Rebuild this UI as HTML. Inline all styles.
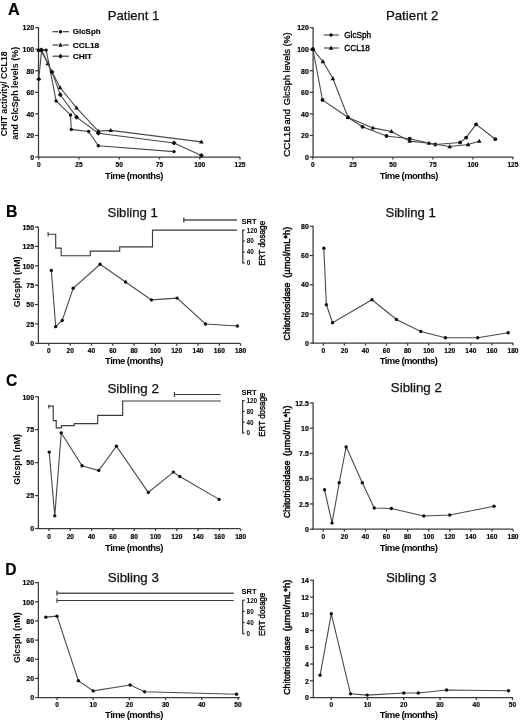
<!DOCTYPE html>
<html><head><meta charset="utf-8"><title>Figure</title>
<style>
html,body{margin:0;padding:0;background:#fff;}
body{width:520px;height:722px;overflow:hidden;}
svg{display:block;font-family:"Liberation Sans", sans-serif;}
</style></head>
<body>
<svg width="520" height="722" viewBox="0 0 520 722">
<defs><filter id="soft" filterUnits="userSpaceOnUse" x="0" y="0" width="520" height="722"><feGaussianBlur stdDeviation="0.45"/></filter></defs>
<rect width="520" height="722" fill="#fff"/>
<g filter="url(#soft)">
<text x="7.9" y="14.7" font-size="17.4" font-weight="bold" textLength="11.7" lengthAdjust="spacingAndGlyphs" fill="#000" stroke="#000" stroke-width="0.2">A</text>
<text x="5.9" y="216.7" font-size="17.4" font-weight="bold" textLength="11.4" lengthAdjust="spacingAndGlyphs" fill="#000" stroke="#000" stroke-width="0.2">B</text>
<text x="5.9" y="385.9" font-size="17.4" font-weight="bold" textLength="11.3" lengthAdjust="spacingAndGlyphs" fill="#000" stroke="#000" stroke-width="0.2">C</text>
<text x="5.3" y="575" font-size="17.4" font-weight="bold" textLength="11.3" lengthAdjust="spacingAndGlyphs" fill="#000" stroke="#000" stroke-width="0.2">D</text>
<line x1="38.5" y1="27.2" x2="38.5" y2="157.5" stroke="#3a3a3a" stroke-width="1.25"/>
<line x1="35.2" y1="157" x2="38.5" y2="157" stroke="#3a3a3a" stroke-width="1.25"/>
<text x="34.2" y="159.75" font-size="7.6" font-weight="bold" text-anchor="end" textLength="3.89" lengthAdjust="spacingAndGlyphs" fill="#000" stroke="#000" stroke-width="0.2">0</text>
<line x1="35.2" y1="135.45" x2="38.5" y2="135.45" stroke="#3a3a3a" stroke-width="1.25"/>
<text x="34.2" y="138.2" font-size="7.6" font-weight="bold" text-anchor="end" textLength="7.78" lengthAdjust="spacingAndGlyphs" fill="#000" stroke="#000" stroke-width="0.2">20</text>
<line x1="35.2" y1="113.9" x2="38.5" y2="113.9" stroke="#3a3a3a" stroke-width="1.25"/>
<text x="34.2" y="116.65" font-size="7.6" font-weight="bold" text-anchor="end" textLength="7.78" lengthAdjust="spacingAndGlyphs" fill="#000" stroke="#000" stroke-width="0.2">40</text>
<line x1="35.2" y1="92.35" x2="38.5" y2="92.35" stroke="#3a3a3a" stroke-width="1.25"/>
<text x="34.2" y="95.1" font-size="7.6" font-weight="bold" text-anchor="end" textLength="7.78" lengthAdjust="spacingAndGlyphs" fill="#000" stroke="#000" stroke-width="0.2">60</text>
<line x1="35.2" y1="70.8" x2="38.5" y2="70.8" stroke="#3a3a3a" stroke-width="1.25"/>
<text x="34.2" y="73.55" font-size="7.6" font-weight="bold" text-anchor="end" textLength="7.78" lengthAdjust="spacingAndGlyphs" fill="#000" stroke="#000" stroke-width="0.2">80</text>
<line x1="35.2" y1="49.25" x2="38.5" y2="49.25" stroke="#3a3a3a" stroke-width="1.25"/>
<text x="34.2" y="52" font-size="7.6" font-weight="bold" text-anchor="end" textLength="11.67" lengthAdjust="spacingAndGlyphs" fill="#000" stroke="#000" stroke-width="0.2">100</text>
<line x1="35.2" y1="27.7" x2="38.5" y2="27.7" stroke="#3a3a3a" stroke-width="1.25"/>
<text x="34.2" y="30.45" font-size="7.6" font-weight="bold" text-anchor="end" textLength="11.67" lengthAdjust="spacingAndGlyphs" fill="#000" stroke="#000" stroke-width="0.2">120</text>
<line x1="38" y1="157" x2="240" y2="157" stroke="#3a3a3a" stroke-width="1.25"/>
<line x1="38.75" y1="157" x2="38.75" y2="159.4" stroke="#3a3a3a" stroke-width="1.25"/>
<text x="38.75" y="167.25" font-size="7.6" font-weight="bold" text-anchor="middle" textLength="3.68" lengthAdjust="spacingAndGlyphs" fill="#000" stroke="#000" stroke-width="0.2">0</text>
<line x1="79" y1="157" x2="79" y2="159.4" stroke="#3a3a3a" stroke-width="1.25"/>
<text x="79" y="167.25" font-size="7.6" font-weight="bold" text-anchor="middle" textLength="7.35" lengthAdjust="spacingAndGlyphs" fill="#000" stroke="#000" stroke-width="0.2">25</text>
<line x1="119.25" y1="157" x2="119.25" y2="159.4" stroke="#3a3a3a" stroke-width="1.25"/>
<text x="119.25" y="167.25" font-size="7.6" font-weight="bold" text-anchor="middle" textLength="7.35" lengthAdjust="spacingAndGlyphs" fill="#000" stroke="#000" stroke-width="0.2">50</text>
<line x1="159.5" y1="157" x2="159.5" y2="159.4" stroke="#3a3a3a" stroke-width="1.25"/>
<text x="159.5" y="167.25" font-size="7.6" font-weight="bold" text-anchor="middle" textLength="7.35" lengthAdjust="spacingAndGlyphs" fill="#000" stroke="#000" stroke-width="0.2">75</text>
<line x1="199.75" y1="157" x2="199.75" y2="159.4" stroke="#3a3a3a" stroke-width="1.25"/>
<text x="199.75" y="167.25" font-size="7.6" font-weight="bold" text-anchor="middle" textLength="11.03" lengthAdjust="spacingAndGlyphs" fill="#000" stroke="#000" stroke-width="0.2">100</text>
<line x1="240" y1="157" x2="240" y2="159.4" stroke="#3a3a3a" stroke-width="1.25"/>
<text x="240" y="167.25" font-size="7.6" font-weight="bold" text-anchor="middle" textLength="11.03" lengthAdjust="spacingAndGlyphs" fill="#000" stroke="#000" stroke-width="0.2">125</text>
<text x="107.8" y="19.8" font-size="13" textLength="51.6" lengthAdjust="spacingAndGlyphs" fill="#111" stroke="#111" stroke-width="0.25">Patient 1</text>
<text x="6.64" y="136.3" font-size="9" font-weight="bold" textLength="84.9" lengthAdjust="spacingAndGlyphs" fill="#000" transform="rotate(-90 6.64 136.3)">CHIT activity/ CCL18</text>
<text x="18.24" y="139.8" font-size="9" font-weight="bold" textLength="92.9" lengthAdjust="spacingAndGlyphs" fill="#000" transform="rotate(-90 18.24 139.8)">and GlcSph levels (%)</text>
<text x="105.1" y="179.2" font-size="9.5" font-weight="bold" textLength="58.2" lengthAdjust="spacing" fill="#000">Time (months)</text>
<path d="M38.75 50.11 L46.16 50.11 L56.14 100.97 L70.47 114.98 L71.27 129.42 L88.66 131.46 L98.32 145.69 L173.99 151.61" stroke="#4a4a4a" stroke-width="1.1" fill="none"/>
<circle cx="38.75" cy="50.11" r="1.7" fill="#111"/>
<circle cx="46.16" cy="50.11" r="1.7" fill="#111"/>
<circle cx="56.14" cy="100.97" r="1.7" fill="#111"/>
<circle cx="70.47" cy="114.98" r="1.7" fill="#111"/>
<circle cx="71.27" cy="129.42" r="1.7" fill="#111"/>
<circle cx="88.66" cy="131.46" r="1.7" fill="#111"/>
<circle cx="98.32" cy="145.69" r="1.7" fill="#111"/>
<circle cx="173.99" cy="151.61" r="1.7" fill="#111"/>
<path d="M38.75 50.11 L40.68 50.11 L47.77 63.58 L60 87.5 L76.59 107.87 L98.32 131.14 L110.72 130.39 L201.36 141.91" stroke="#4a4a4a" stroke-width="1.1" fill="none"/>
<path d="M38.75 47.63 L41.05 51.77 L36.45 51.77 Z" fill="#111"/>
<path d="M40.68 47.63 L42.98 51.77 L38.38 51.77 Z" fill="#111"/>
<path d="M47.77 61.1 L50.07 65.24 L45.47 65.24 Z" fill="#111"/>
<path d="M60 85.02 L62.3 89.16 L57.7 89.16 Z" fill="#111"/>
<path d="M76.59 105.38 L78.89 109.52 L74.29 109.52 Z" fill="#111"/>
<path d="M98.32 128.66 L100.62 132.8 L96.02 132.8 Z" fill="#111"/>
<path d="M110.72 127.9 L113.02 132.04 L108.42 132.04 Z" fill="#111"/>
<path d="M201.36 139.43 L203.66 143.57 L199.06 143.57 Z" fill="#111"/>
<path d="M38.75 79.2 L41.65 50.11 L51.95 71.88 L60.32 94.83 L76.59 117.13 L98.32 133.3 L173.99 142.99 L201.36 155.38" stroke="#4a4a4a" stroke-width="1.1" fill="none"/>
<path d="M38.75 76.7 L41.25 79.2 L38.75 81.7 L36.25 79.2 Z" fill="#111"/>
<path d="M41.65 47.61 L44.15 50.11 L41.65 52.61 L39.15 50.11 Z" fill="#111"/>
<path d="M51.95 69.38 L54.45 71.88 L51.95 74.38 L49.45 71.88 Z" fill="#111"/>
<path d="M60.32 92.33 L62.82 94.83 L60.32 97.33 L57.82 94.83 Z" fill="#111"/>
<path d="M76.59 114.63 L79.09 117.13 L76.59 119.63 L74.09 117.13 Z" fill="#111"/>
<path d="M98.32 130.8 L100.82 133.3 L98.32 135.8 L95.82 133.3 Z" fill="#111"/>
<path d="M173.99 140.49 L176.49 142.99 L173.99 145.49 L171.49 142.99 Z" fill="#111"/>
<path d="M201.36 152.88 L203.86 155.38 L201.36 157.88 L198.86 155.38 Z" fill="#111"/>
<line x1="52.6" y1="31.7" x2="58.2" y2="31.7" stroke="#3a3a3a" stroke-width="1.2"/>
<line x1="62.8" y1="31.7" x2="68.8" y2="31.7" stroke="#3a3a3a" stroke-width="1.2"/>
<circle cx="60.5" cy="31.7" r="1.7" fill="#111"/>
<text x="72.8" y="34.4" font-size="7.8" font-weight="bold" textLength="27.8" lengthAdjust="spacingAndGlyphs" fill="#000" stroke="#000" stroke-width="0.15">GlcSph</text>
<line x1="52.6" y1="45" x2="58.2" y2="45" stroke="#3a3a3a" stroke-width="1.2"/>
<line x1="62.8" y1="45" x2="68.8" y2="45" stroke="#3a3a3a" stroke-width="1.2"/>
<path d="M60.5 42.52 L62.8 46.66 L58.2 46.66 Z" fill="#111"/>
<text x="72.8" y="47.7" font-size="7.8" font-weight="bold" textLength="26.4" lengthAdjust="spacingAndGlyphs" fill="#000" stroke="#000" stroke-width="0.15">CCL18</text>
<line x1="52.6" y1="56.2" x2="58.2" y2="56.2" stroke="#3a3a3a" stroke-width="1.2"/>
<line x1="62.8" y1="56.2" x2="68.8" y2="56.2" stroke="#3a3a3a" stroke-width="1.2"/>
<path d="M60.5 53.7 L63 56.2 L60.5 58.7 L58 56.2 Z" fill="#111"/>
<text x="72.8" y="58.9" font-size="7.8" font-weight="bold" textLength="19.4" lengthAdjust="spacingAndGlyphs" fill="#000" stroke="#000" stroke-width="0.15">CHIT</text>
<line x1="313.1" y1="27.2" x2="313.1" y2="157.5" stroke="#3a3a3a" stroke-width="1.25"/>
<line x1="309.8" y1="157" x2="313.1" y2="157" stroke="#3a3a3a" stroke-width="1.25"/>
<text x="308.8" y="159.75" font-size="7.6" font-weight="bold" text-anchor="end" textLength="3.89" lengthAdjust="spacingAndGlyphs" fill="#000" stroke="#000" stroke-width="0.2">0</text>
<line x1="309.8" y1="135.45" x2="313.1" y2="135.45" stroke="#3a3a3a" stroke-width="1.25"/>
<text x="308.8" y="138.2" font-size="7.6" font-weight="bold" text-anchor="end" textLength="7.78" lengthAdjust="spacingAndGlyphs" fill="#000" stroke="#000" stroke-width="0.2">20</text>
<line x1="309.8" y1="113.9" x2="313.1" y2="113.9" stroke="#3a3a3a" stroke-width="1.25"/>
<text x="308.8" y="116.65" font-size="7.6" font-weight="bold" text-anchor="end" textLength="7.78" lengthAdjust="spacingAndGlyphs" fill="#000" stroke="#000" stroke-width="0.2">40</text>
<line x1="309.8" y1="92.35" x2="313.1" y2="92.35" stroke="#3a3a3a" stroke-width="1.25"/>
<text x="308.8" y="95.1" font-size="7.6" font-weight="bold" text-anchor="end" textLength="7.78" lengthAdjust="spacingAndGlyphs" fill="#000" stroke="#000" stroke-width="0.2">60</text>
<line x1="309.8" y1="70.8" x2="313.1" y2="70.8" stroke="#3a3a3a" stroke-width="1.25"/>
<text x="308.8" y="73.55" font-size="7.6" font-weight="bold" text-anchor="end" textLength="7.78" lengthAdjust="spacingAndGlyphs" fill="#000" stroke="#000" stroke-width="0.2">80</text>
<line x1="309.8" y1="49.25" x2="313.1" y2="49.25" stroke="#3a3a3a" stroke-width="1.25"/>
<text x="308.8" y="52" font-size="7.6" font-weight="bold" text-anchor="end" textLength="11.67" lengthAdjust="spacingAndGlyphs" fill="#000" stroke="#000" stroke-width="0.2">100</text>
<line x1="309.8" y1="27.7" x2="313.1" y2="27.7" stroke="#3a3a3a" stroke-width="1.25"/>
<text x="308.8" y="30.45" font-size="7.6" font-weight="bold" text-anchor="end" textLength="11.67" lengthAdjust="spacingAndGlyphs" fill="#000" stroke="#000" stroke-width="0.2">120</text>
<line x1="312.6" y1="157" x2="513.3" y2="157" stroke="#3a3a3a" stroke-width="1.25"/>
<line x1="312.9" y1="157" x2="312.9" y2="159.4" stroke="#3a3a3a" stroke-width="1.25"/>
<text x="312.9" y="167.45" font-size="7.6" font-weight="bold" text-anchor="middle" textLength="3.68" lengthAdjust="spacingAndGlyphs" fill="#000" stroke="#000" stroke-width="0.2">0</text>
<line x1="352.9" y1="157" x2="352.9" y2="159.4" stroke="#3a3a3a" stroke-width="1.25"/>
<text x="352.9" y="167.45" font-size="7.6" font-weight="bold" text-anchor="middle" textLength="7.35" lengthAdjust="spacingAndGlyphs" fill="#000" stroke="#000" stroke-width="0.2">25</text>
<line x1="392.9" y1="157" x2="392.9" y2="159.4" stroke="#3a3a3a" stroke-width="1.25"/>
<text x="392.9" y="167.45" font-size="7.6" font-weight="bold" text-anchor="middle" textLength="7.35" lengthAdjust="spacingAndGlyphs" fill="#000" stroke="#000" stroke-width="0.2">50</text>
<line x1="432.9" y1="157" x2="432.9" y2="159.4" stroke="#3a3a3a" stroke-width="1.25"/>
<text x="432.9" y="167.45" font-size="7.6" font-weight="bold" text-anchor="middle" textLength="7.35" lengthAdjust="spacingAndGlyphs" fill="#000" stroke="#000" stroke-width="0.2">75</text>
<line x1="472.9" y1="157" x2="472.9" y2="159.4" stroke="#3a3a3a" stroke-width="1.25"/>
<text x="472.9" y="167.45" font-size="7.6" font-weight="bold" text-anchor="middle" textLength="11.03" lengthAdjust="spacingAndGlyphs" fill="#000" stroke="#000" stroke-width="0.2">100</text>
<line x1="512.9" y1="157" x2="512.9" y2="159.4" stroke="#3a3a3a" stroke-width="1.25"/>
<text x="512.9" y="167.45" font-size="7.6" font-weight="bold" text-anchor="middle" textLength="11.03" lengthAdjust="spacingAndGlyphs" fill="#000" stroke="#000" stroke-width="0.2">125</text>
<text x="385.9" y="19.9" font-size="13" textLength="52.4" lengthAdjust="spacingAndGlyphs" fill="#111" stroke="#111" stroke-width="0.25">Patient 2</text>
<text x="289.84" y="156.8" font-size="9.4" textLength="30.8" lengthAdjust="spacingAndGlyphs" fill="#000" stroke="#000" stroke-width="0.3" transform="rotate(-90 289.84 156.8)">CCL18</text>
<text x="289.84" y="124.6" font-size="9.4" textLength="15.5" lengthAdjust="spacingAndGlyphs" fill="#000" stroke="#000" stroke-width="0.3" transform="rotate(-90 289.84 124.6)">and</text>
<text x="289.84" y="105.2" font-size="9.4" textLength="72.9" lengthAdjust="spacingAndGlyphs" fill="#000" stroke="#000" stroke-width="0.3" transform="rotate(-90 289.84 105.2)">GlcSph levels (%)</text>
<text x="379.7" y="178.6" font-size="9.5" font-weight="bold" textLength="58.6" lengthAdjust="spacing" fill="#000">Time (months)</text>
<path d="M312.9 49.25 L322.5 99.89 L348.1 117.46 L362.5 126.83 L386.5 135.99 L409.7 138.68 L435.3 144.5 L460.1 142.45 L466.18 137.6 L476.1 124.35 L495.3 139.22" stroke="#4a4a4a" stroke-width="1.1" fill="none"/>
<circle cx="312.9" cy="49.25" r="1.9" fill="#111"/>
<circle cx="322.5" cy="99.89" r="1.9" fill="#111"/>
<circle cx="348.1" cy="117.46" r="1.9" fill="#111"/>
<circle cx="362.5" cy="126.83" r="1.9" fill="#111"/>
<circle cx="386.5" cy="135.99" r="1.9" fill="#111"/>
<circle cx="409.7" cy="138.68" r="1.9" fill="#111"/>
<circle cx="435.3" cy="144.5" r="1.9" fill="#111"/>
<circle cx="460.1" cy="142.45" r="1.9" fill="#111"/>
<circle cx="466.18" cy="137.6" r="1.9" fill="#111"/>
<circle cx="476.1" cy="124.35" r="1.9" fill="#111"/>
<circle cx="495.3" cy="139.22" r="1.9" fill="#111"/>
<path d="M312.9 49.25 L322.9 61.53 L332.9 78.56 L348.1 117.46 L372.9 127.91 L391.46 131.46 L409.7 141.16 L429.06 143.21 L449.7 146.55 L468.1 144.5 L479.3 141.16" stroke="#4a4a4a" stroke-width="1.1" fill="none"/>
<path d="M312.9 46.77 L315.2 50.91 L310.6 50.91 Z" fill="#111"/>
<path d="M322.9 59.05 L325.2 63.19 L320.6 63.19 Z" fill="#111"/>
<path d="M332.9 76.07 L335.2 80.21 L330.6 80.21 Z" fill="#111"/>
<path d="M348.1 114.97 L350.4 119.11 L345.8 119.11 Z" fill="#111"/>
<path d="M372.9 125.42 L375.2 129.56 L370.6 129.56 Z" fill="#111"/>
<path d="M391.46 128.98 L393.76 133.12 L389.16 133.12 Z" fill="#111"/>
<path d="M409.7 138.68 L412 142.82 L407.4 142.82 Z" fill="#111"/>
<path d="M429.06 140.72 L431.36 144.86 L426.76 144.86 Z" fill="#111"/>
<path d="M449.7 144.06 L452 148.2 L447.4 148.2 Z" fill="#111"/>
<path d="M468.1 142.02 L470.4 146.16 L465.8 146.16 Z" fill="#111"/>
<path d="M479.3 138.68 L481.6 142.82 L477 142.82 Z" fill="#111"/>
<line x1="323.7" y1="35" x2="338.8" y2="35" stroke="#4a4a4a" stroke-width="1.1"/>
<circle cx="331" cy="35" r="1.8" fill="#111"/>
<text x="344.2" y="38" font-size="8.6" textLength="27" lengthAdjust="spacingAndGlyphs" fill="#000" stroke="#000" stroke-width="0.35">GlcSph</text>
<line x1="323.7" y1="48" x2="338.8" y2="48" stroke="#4a4a4a" stroke-width="1.1"/>
<path d="M331 45.52 L333.3 49.66 L328.7 49.66 Z" fill="#111"/>
<text x="344.2" y="51" font-size="8.6" textLength="25.8" lengthAdjust="spacingAndGlyphs" fill="#000" stroke="#000" stroke-width="0.35">CCL18</text>
<line x1="38.4" y1="226.55" x2="38.4" y2="343.8" stroke="#3a3a3a" stroke-width="1.25"/>
<line x1="35.1" y1="343.3" x2="38.4" y2="343.3" stroke="#3a3a3a" stroke-width="1.25"/>
<text x="34.1" y="346.05" font-size="7.6" font-weight="bold" text-anchor="end" textLength="3.89" lengthAdjust="spacingAndGlyphs" fill="#000" stroke="#000" stroke-width="0.2">0</text>
<line x1="35.1" y1="323.93" x2="38.4" y2="323.93" stroke="#3a3a3a" stroke-width="1.25"/>
<text x="34.1" y="326.68" font-size="7.6" font-weight="bold" text-anchor="end" textLength="7.78" lengthAdjust="spacingAndGlyphs" fill="#000" stroke="#000" stroke-width="0.2">25</text>
<line x1="35.1" y1="304.55" x2="38.4" y2="304.55" stroke="#3a3a3a" stroke-width="1.25"/>
<text x="34.1" y="307.3" font-size="7.6" font-weight="bold" text-anchor="end" textLength="7.78" lengthAdjust="spacingAndGlyphs" fill="#000" stroke="#000" stroke-width="0.2">50</text>
<line x1="35.1" y1="285.18" x2="38.4" y2="285.18" stroke="#3a3a3a" stroke-width="1.25"/>
<text x="34.1" y="287.93" font-size="7.6" font-weight="bold" text-anchor="end" textLength="7.78" lengthAdjust="spacingAndGlyphs" fill="#000" stroke="#000" stroke-width="0.2">75</text>
<line x1="35.1" y1="265.8" x2="38.4" y2="265.8" stroke="#3a3a3a" stroke-width="1.25"/>
<text x="34.1" y="268.55" font-size="7.6" font-weight="bold" text-anchor="end" textLength="11.67" lengthAdjust="spacingAndGlyphs" fill="#000" stroke="#000" stroke-width="0.2">100</text>
<line x1="35.1" y1="246.43" x2="38.4" y2="246.43" stroke="#3a3a3a" stroke-width="1.25"/>
<text x="34.1" y="249.18" font-size="7.6" font-weight="bold" text-anchor="end" textLength="11.67" lengthAdjust="spacingAndGlyphs" fill="#000" stroke="#000" stroke-width="0.2">125</text>
<line x1="35.1" y1="227.05" x2="38.4" y2="227.05" stroke="#3a3a3a" stroke-width="1.25"/>
<text x="34.1" y="229.8" font-size="7.6" font-weight="bold" text-anchor="end" textLength="11.67" lengthAdjust="spacingAndGlyphs" fill="#000" stroke="#000" stroke-width="0.2">150</text>
<line x1="37.9" y1="343.3" x2="240" y2="343.3" stroke="#3a3a3a" stroke-width="1.25"/>
<line x1="48.9" y1="343.3" x2="48.9" y2="345.7" stroke="#3a3a3a" stroke-width="1.25"/>
<text x="48.9" y="352.65" font-size="7.6" font-weight="bold" text-anchor="middle" textLength="3.68" lengthAdjust="spacingAndGlyphs" fill="#000" stroke="#000" stroke-width="0.2">0</text>
<line x1="70.2" y1="343.3" x2="70.2" y2="345.7" stroke="#3a3a3a" stroke-width="1.25"/>
<text x="70.2" y="352.65" font-size="7.6" font-weight="bold" text-anchor="middle" textLength="7.35" lengthAdjust="spacingAndGlyphs" fill="#000" stroke="#000" stroke-width="0.2">20</text>
<line x1="91.5" y1="343.3" x2="91.5" y2="345.7" stroke="#3a3a3a" stroke-width="1.25"/>
<text x="91.5" y="352.65" font-size="7.6" font-weight="bold" text-anchor="middle" textLength="7.35" lengthAdjust="spacingAndGlyphs" fill="#000" stroke="#000" stroke-width="0.2">40</text>
<line x1="112.8" y1="343.3" x2="112.8" y2="345.7" stroke="#3a3a3a" stroke-width="1.25"/>
<text x="112.8" y="352.65" font-size="7.6" font-weight="bold" text-anchor="middle" textLength="7.35" lengthAdjust="spacingAndGlyphs" fill="#000" stroke="#000" stroke-width="0.2">60</text>
<line x1="134.1" y1="343.3" x2="134.1" y2="345.7" stroke="#3a3a3a" stroke-width="1.25"/>
<text x="134.1" y="352.65" font-size="7.6" font-weight="bold" text-anchor="middle" textLength="7.35" lengthAdjust="spacingAndGlyphs" fill="#000" stroke="#000" stroke-width="0.2">80</text>
<line x1="155.4" y1="343.3" x2="155.4" y2="345.7" stroke="#3a3a3a" stroke-width="1.25"/>
<text x="155.4" y="352.65" font-size="7.6" font-weight="bold" text-anchor="middle" textLength="11.03" lengthAdjust="spacingAndGlyphs" fill="#000" stroke="#000" stroke-width="0.2">100</text>
<line x1="176.7" y1="343.3" x2="176.7" y2="345.7" stroke="#3a3a3a" stroke-width="1.25"/>
<text x="176.7" y="352.65" font-size="7.6" font-weight="bold" text-anchor="middle" textLength="11.03" lengthAdjust="spacingAndGlyphs" fill="#000" stroke="#000" stroke-width="0.2">120</text>
<line x1="198" y1="343.3" x2="198" y2="345.7" stroke="#3a3a3a" stroke-width="1.25"/>
<text x="198" y="352.65" font-size="7.6" font-weight="bold" text-anchor="middle" textLength="11.03" lengthAdjust="spacingAndGlyphs" fill="#000" stroke="#000" stroke-width="0.2">140</text>
<line x1="219.3" y1="343.3" x2="219.3" y2="345.7" stroke="#3a3a3a" stroke-width="1.25"/>
<text x="219.3" y="352.65" font-size="7.6" font-weight="bold" text-anchor="middle" textLength="11.03" lengthAdjust="spacingAndGlyphs" fill="#000" stroke="#000" stroke-width="0.2">160</text>
<line x1="240.6" y1="343.3" x2="240.6" y2="345.7" stroke="#3a3a3a" stroke-width="1.25"/>
<text x="240.6" y="352.65" font-size="7.6" font-weight="bold" text-anchor="middle" textLength="11.03" lengthAdjust="spacingAndGlyphs" fill="#000" stroke="#000" stroke-width="0.2">180</text>
<text x="107.4" y="216.9" font-size="13" textLength="50.5" lengthAdjust="spacingAndGlyphs" fill="#111" stroke="#111" stroke-width="0.25">Sibling 1</text>
<text x="20.34" y="307.2" font-size="9" font-weight="bold" textLength="50.6" lengthAdjust="spacingAndGlyphs" fill="#000" transform="rotate(-90 20.34 307.2)">Glcsph (nM)</text>
<text x="105.1" y="364.2" font-size="9.5" font-weight="bold" textLength="58.4" lengthAdjust="spacing" fill="#000">Time (months)</text>
<path d="M51.35 270.45 L55.66 326.64 L62.21 320.44 L73.18 288.28 L100.13 264.25 L125.58 282.07 L151.35 299.9 L177.13 298.12 L205.45 323.93 L237.41 325.94" stroke="#4a4a4a" stroke-width="1.1" fill="none"/>
<circle cx="51.35" cy="270.45" r="1.7" fill="#111"/>
<circle cx="55.66" cy="326.64" r="1.7" fill="#111"/>
<circle cx="62.21" cy="320.44" r="1.7" fill="#111"/>
<circle cx="73.18" cy="288.28" r="1.7" fill="#111"/>
<circle cx="100.13" cy="264.25" r="1.7" fill="#111"/>
<circle cx="125.58" cy="282.07" r="1.7" fill="#111"/>
<circle cx="151.35" cy="299.9" r="1.7" fill="#111"/>
<circle cx="177.13" cy="298.12" r="1.7" fill="#111"/>
<circle cx="205.45" cy="323.93" r="1.7" fill="#111"/>
<circle cx="237.41" cy="325.94" r="1.7" fill="#111"/>
<path d="M48.1 231.9 V236.4 M48.1 234.2 H55.7 V248.1 H61.2 V255.7 H90.3 V251.1 H119.7 V246.9 H152.5 V230.1 H237.1" stroke="#3a3a3a" stroke-width="1.15" fill="none"/>
<path d="M183.8 217.6 V222.4 M183.8 220.0 H237.1" stroke="#555" stroke-width="1.5" fill="none"/>
<line x1="242.8" y1="230.1" x2="242.8" y2="263" stroke="#3a3a3a" stroke-width="1.25"/>
<line x1="242.3" y1="230.1" x2="244.8" y2="230.1" stroke="#3a3a3a" stroke-width="1.25"/>
<text x="246.7" y="232.5" font-size="6.7" font-weight="bold" text-anchor="start" textLength="10.62" lengthAdjust="spacingAndGlyphs" fill="#000">120</text>
<line x1="242.3" y1="241.07" x2="244.8" y2="241.07" stroke="#3a3a3a" stroke-width="1.25"/>
<text x="246.7" y="243.47" font-size="6.7" font-weight="bold" text-anchor="start" textLength="7.08" lengthAdjust="spacingAndGlyphs" fill="#000">80</text>
<line x1="242.3" y1="252.03" x2="244.8" y2="252.03" stroke="#3a3a3a" stroke-width="1.25"/>
<text x="246.7" y="254.43" font-size="6.7" font-weight="bold" text-anchor="start" textLength="7.08" lengthAdjust="spacingAndGlyphs" fill="#000">40</text>
<line x1="242.3" y1="263" x2="244.8" y2="263" stroke="#3a3a3a" stroke-width="1.25"/>
<text x="246.7" y="265.4" font-size="6.7" font-weight="bold" text-anchor="start" textLength="3.54" lengthAdjust="spacingAndGlyphs" fill="#000">0</text>
<text x="241.5" y="223.75" font-size="7.8" font-weight="bold" textLength="15.3" lengthAdjust="spacingAndGlyphs" fill="#000">SRT</text>
<text x="264.98" y="265.8" font-size="8.4" textLength="45" lengthAdjust="spacingAndGlyphs" fill="#000" stroke="#000" stroke-width="0.35" transform="rotate(-90 264.98 265.8)">ERT dosage</text>
<line x1="313.1" y1="225.8" x2="313.1" y2="343.6" stroke="#3a3a3a" stroke-width="1.25"/>
<line x1="309.8" y1="343.1" x2="313.1" y2="343.1" stroke="#3a3a3a" stroke-width="1.25"/>
<text x="308.8" y="345.85" font-size="7.6" font-weight="bold" text-anchor="end" textLength="3.89" lengthAdjust="spacingAndGlyphs" fill="#000" stroke="#000" stroke-width="0.2">0</text>
<line x1="309.8" y1="313.9" x2="313.1" y2="313.9" stroke="#3a3a3a" stroke-width="1.25"/>
<text x="308.8" y="316.65" font-size="7.6" font-weight="bold" text-anchor="end" textLength="7.78" lengthAdjust="spacingAndGlyphs" fill="#000" stroke="#000" stroke-width="0.2">20</text>
<line x1="309.8" y1="284.7" x2="313.1" y2="284.7" stroke="#3a3a3a" stroke-width="1.25"/>
<text x="308.8" y="287.45" font-size="7.6" font-weight="bold" text-anchor="end" textLength="7.78" lengthAdjust="spacingAndGlyphs" fill="#000" stroke="#000" stroke-width="0.2">40</text>
<line x1="309.8" y1="255.5" x2="313.1" y2="255.5" stroke="#3a3a3a" stroke-width="1.25"/>
<text x="308.8" y="258.25" font-size="7.6" font-weight="bold" text-anchor="end" textLength="7.78" lengthAdjust="spacingAndGlyphs" fill="#000" stroke="#000" stroke-width="0.2">60</text>
<line x1="309.8" y1="226.3" x2="313.1" y2="226.3" stroke="#3a3a3a" stroke-width="1.25"/>
<text x="308.8" y="229.05" font-size="7.6" font-weight="bold" text-anchor="end" textLength="7.78" lengthAdjust="spacingAndGlyphs" fill="#000" stroke="#000" stroke-width="0.2">80</text>
<line x1="312.6" y1="343.1" x2="513" y2="343.1" stroke="#3a3a3a" stroke-width="1.25"/>
<line x1="323.3" y1="343.1" x2="323.3" y2="345.5" stroke="#3a3a3a" stroke-width="1.25"/>
<text x="323.3" y="352.55" font-size="7.6" font-weight="bold" text-anchor="middle" textLength="3.68" lengthAdjust="spacingAndGlyphs" fill="#000" stroke="#000" stroke-width="0.2">0</text>
<line x1="344.38" y1="343.1" x2="344.38" y2="345.5" stroke="#3a3a3a" stroke-width="1.25"/>
<text x="344.38" y="352.55" font-size="7.6" font-weight="bold" text-anchor="middle" textLength="7.35" lengthAdjust="spacingAndGlyphs" fill="#000" stroke="#000" stroke-width="0.2">20</text>
<line x1="365.46" y1="343.1" x2="365.46" y2="345.5" stroke="#3a3a3a" stroke-width="1.25"/>
<text x="365.46" y="352.55" font-size="7.6" font-weight="bold" text-anchor="middle" textLength="7.35" lengthAdjust="spacingAndGlyphs" fill="#000" stroke="#000" stroke-width="0.2">40</text>
<line x1="386.54" y1="343.1" x2="386.54" y2="345.5" stroke="#3a3a3a" stroke-width="1.25"/>
<text x="386.54" y="352.55" font-size="7.6" font-weight="bold" text-anchor="middle" textLength="7.35" lengthAdjust="spacingAndGlyphs" fill="#000" stroke="#000" stroke-width="0.2">60</text>
<line x1="407.62" y1="343.1" x2="407.62" y2="345.5" stroke="#3a3a3a" stroke-width="1.25"/>
<text x="407.62" y="352.55" font-size="7.6" font-weight="bold" text-anchor="middle" textLength="7.35" lengthAdjust="spacingAndGlyphs" fill="#000" stroke="#000" stroke-width="0.2">80</text>
<line x1="428.7" y1="343.1" x2="428.7" y2="345.5" stroke="#3a3a3a" stroke-width="1.25"/>
<text x="428.7" y="352.55" font-size="7.6" font-weight="bold" text-anchor="middle" textLength="11.03" lengthAdjust="spacingAndGlyphs" fill="#000" stroke="#000" stroke-width="0.2">100</text>
<line x1="449.78" y1="343.1" x2="449.78" y2="345.5" stroke="#3a3a3a" stroke-width="1.25"/>
<text x="449.78" y="352.55" font-size="7.6" font-weight="bold" text-anchor="middle" textLength="11.03" lengthAdjust="spacingAndGlyphs" fill="#000" stroke="#000" stroke-width="0.2">120</text>
<line x1="470.86" y1="343.1" x2="470.86" y2="345.5" stroke="#3a3a3a" stroke-width="1.25"/>
<text x="470.86" y="352.55" font-size="7.6" font-weight="bold" text-anchor="middle" textLength="11.03" lengthAdjust="spacingAndGlyphs" fill="#000" stroke="#000" stroke-width="0.2">140</text>
<line x1="491.94" y1="343.1" x2="491.94" y2="345.5" stroke="#3a3a3a" stroke-width="1.25"/>
<text x="491.94" y="352.55" font-size="7.6" font-weight="bold" text-anchor="middle" textLength="11.03" lengthAdjust="spacingAndGlyphs" fill="#000" stroke="#000" stroke-width="0.2">160</text>
<line x1="513.02" y1="343.1" x2="513.02" y2="345.5" stroke="#3a3a3a" stroke-width="1.25"/>
<text x="513.02" y="352.55" font-size="7.6" font-weight="bold" text-anchor="middle" textLength="11.03" lengthAdjust="spacingAndGlyphs" fill="#000" stroke="#000" stroke-width="0.2">180</text>
<text x="385.4" y="216.5" font-size="13" textLength="50.5" lengthAdjust="spacingAndGlyphs" fill="#111" stroke="#111" stroke-width="0.25">Sibling 1</text>
<text x="289.64" y="340.4" font-size="9" textLength="57.76" lengthAdjust="spacingAndGlyphs" fill="#000" stroke="#000" stroke-width="0.45" transform="rotate(-90 289.64 340.4)">Chitotriosidase</text>
<text x="289.64" y="277.75" font-size="9" textLength="51.05" lengthAdjust="spacingAndGlyphs" fill="#000" stroke="#000" stroke-width="0.45" transform="rotate(-90 289.64 277.75)">(µmol/mL*h)</text>
<text x="379.7" y="364.2" font-size="9.5" font-weight="bold" textLength="58.3" lengthAdjust="spacing" fill="#000">Time (months)</text>
<path d="M323.83 248.2 L326.36 304.7 L332.58 322.66 L371.99 299.74 L396.45 319.45 L420.8 331.42 L445.35 337.7 L477.71 337.7 L508.17 332.81" stroke="#4a4a4a" stroke-width="1.1" fill="none"/>
<circle cx="323.83" cy="248.2" r="1.7" fill="#111"/>
<circle cx="326.36" cy="304.7" r="1.7" fill="#111"/>
<circle cx="332.58" cy="322.66" r="1.7" fill="#111"/>
<circle cx="371.99" cy="299.74" r="1.7" fill="#111"/>
<circle cx="396.45" cy="319.45" r="1.7" fill="#111"/>
<circle cx="420.8" cy="331.42" r="1.7" fill="#111"/>
<circle cx="445.35" cy="337.7" r="1.7" fill="#111"/>
<circle cx="477.71" cy="337.7" r="1.7" fill="#111"/>
<circle cx="508.17" cy="332.81" r="1.7" fill="#111"/>
<line x1="38.4" y1="396.25" x2="38.4" y2="529" stroke="#3a3a3a" stroke-width="1.25"/>
<line x1="35.1" y1="528.5" x2="38.4" y2="528.5" stroke="#3a3a3a" stroke-width="1.25"/>
<text x="34.1" y="531.25" font-size="7.6" font-weight="bold" text-anchor="end" textLength="3.89" lengthAdjust="spacingAndGlyphs" fill="#000" stroke="#000" stroke-width="0.2">0</text>
<line x1="35.1" y1="495.56" x2="38.4" y2="495.56" stroke="#3a3a3a" stroke-width="1.25"/>
<text x="34.1" y="498.31" font-size="7.6" font-weight="bold" text-anchor="end" textLength="7.78" lengthAdjust="spacingAndGlyphs" fill="#000" stroke="#000" stroke-width="0.2">25</text>
<line x1="35.1" y1="462.62" x2="38.4" y2="462.62" stroke="#3a3a3a" stroke-width="1.25"/>
<text x="34.1" y="465.38" font-size="7.6" font-weight="bold" text-anchor="end" textLength="7.78" lengthAdjust="spacingAndGlyphs" fill="#000" stroke="#000" stroke-width="0.2">50</text>
<line x1="35.1" y1="429.69" x2="38.4" y2="429.69" stroke="#3a3a3a" stroke-width="1.25"/>
<text x="34.1" y="432.44" font-size="7.6" font-weight="bold" text-anchor="end" textLength="7.78" lengthAdjust="spacingAndGlyphs" fill="#000" stroke="#000" stroke-width="0.2">75</text>
<line x1="35.1" y1="396.75" x2="38.4" y2="396.75" stroke="#3a3a3a" stroke-width="1.25"/>
<text x="34.1" y="399.5" font-size="7.6" font-weight="bold" text-anchor="end" textLength="11.67" lengthAdjust="spacingAndGlyphs" fill="#000" stroke="#000" stroke-width="0.2">100</text>
<line x1="37.9" y1="528.5" x2="240" y2="528.5" stroke="#3a3a3a" stroke-width="1.25"/>
<line x1="49" y1="528.5" x2="49" y2="530.9" stroke="#3a3a3a" stroke-width="1.25"/>
<text x="49" y="539.05" font-size="7.6" font-weight="bold" text-anchor="middle" textLength="3.68" lengthAdjust="spacingAndGlyphs" fill="#000" stroke="#000" stroke-width="0.2">0</text>
<line x1="70.3" y1="528.5" x2="70.3" y2="530.9" stroke="#3a3a3a" stroke-width="1.25"/>
<text x="70.3" y="539.05" font-size="7.6" font-weight="bold" text-anchor="middle" textLength="7.35" lengthAdjust="spacingAndGlyphs" fill="#000" stroke="#000" stroke-width="0.2">20</text>
<line x1="91.6" y1="528.5" x2="91.6" y2="530.9" stroke="#3a3a3a" stroke-width="1.25"/>
<text x="91.6" y="539.05" font-size="7.6" font-weight="bold" text-anchor="middle" textLength="7.35" lengthAdjust="spacingAndGlyphs" fill="#000" stroke="#000" stroke-width="0.2">40</text>
<line x1="112.9" y1="528.5" x2="112.9" y2="530.9" stroke="#3a3a3a" stroke-width="1.25"/>
<text x="112.9" y="539.05" font-size="7.6" font-weight="bold" text-anchor="middle" textLength="7.35" lengthAdjust="spacingAndGlyphs" fill="#000" stroke="#000" stroke-width="0.2">60</text>
<line x1="134.2" y1="528.5" x2="134.2" y2="530.9" stroke="#3a3a3a" stroke-width="1.25"/>
<text x="134.2" y="539.05" font-size="7.6" font-weight="bold" text-anchor="middle" textLength="7.35" lengthAdjust="spacingAndGlyphs" fill="#000" stroke="#000" stroke-width="0.2">80</text>
<line x1="155.5" y1="528.5" x2="155.5" y2="530.9" stroke="#3a3a3a" stroke-width="1.25"/>
<text x="155.5" y="539.05" font-size="7.6" font-weight="bold" text-anchor="middle" textLength="11.03" lengthAdjust="spacingAndGlyphs" fill="#000" stroke="#000" stroke-width="0.2">100</text>
<line x1="176.8" y1="528.5" x2="176.8" y2="530.9" stroke="#3a3a3a" stroke-width="1.25"/>
<text x="176.8" y="539.05" font-size="7.6" font-weight="bold" text-anchor="middle" textLength="11.03" lengthAdjust="spacingAndGlyphs" fill="#000" stroke="#000" stroke-width="0.2">120</text>
<line x1="198.1" y1="528.5" x2="198.1" y2="530.9" stroke="#3a3a3a" stroke-width="1.25"/>
<text x="198.1" y="539.05" font-size="7.6" font-weight="bold" text-anchor="middle" textLength="11.03" lengthAdjust="spacingAndGlyphs" fill="#000" stroke="#000" stroke-width="0.2">140</text>
<line x1="219.4" y1="528.5" x2="219.4" y2="530.9" stroke="#3a3a3a" stroke-width="1.25"/>
<text x="219.4" y="539.05" font-size="7.6" font-weight="bold" text-anchor="middle" textLength="11.03" lengthAdjust="spacingAndGlyphs" fill="#000" stroke="#000" stroke-width="0.2">160</text>
<line x1="240.7" y1="528.5" x2="240.7" y2="530.9" stroke="#3a3a3a" stroke-width="1.25"/>
<text x="240.7" y="539.05" font-size="7.6" font-weight="bold" text-anchor="middle" textLength="11.03" lengthAdjust="spacingAndGlyphs" fill="#000" stroke="#000" stroke-width="0.2">180</text>
<text x="107.4" y="392.5" font-size="13" textLength="51.5" lengthAdjust="spacingAndGlyphs" fill="#111" stroke="#111" stroke-width="0.25">Sibling 2</text>
<text x="19.94" y="484.7" font-size="9" font-weight="bold" textLength="50.7" lengthAdjust="spacingAndGlyphs" fill="#000" transform="rotate(-90 19.94 484.7)">Glcsph (nM)</text>
<text x="105.1" y="550.6" font-size="9.5" font-weight="bold" textLength="58.2" lengthAdjust="spacing" fill="#000">Time (months)</text>
<path d="M49.21 452.09 L54.75 515.85 L61.25 432.85 L82.02 465.79 L98.74 470.53 L116.41 446.16 L148.26 492.4 L173.39 472.11 L179.78 476.46 L219.19 499.38" stroke="#4a4a4a" stroke-width="1.1" fill="none"/>
<circle cx="49.21" cy="452.09" r="1.7" fill="#111"/>
<circle cx="54.75" cy="515.85" r="1.7" fill="#111"/>
<circle cx="61.25" cy="432.85" r="1.7" fill="#111"/>
<circle cx="82.02" cy="465.79" r="1.7" fill="#111"/>
<circle cx="98.74" cy="470.53" r="1.7" fill="#111"/>
<circle cx="116.41" cy="446.16" r="1.7" fill="#111"/>
<circle cx="148.26" cy="492.4" r="1.7" fill="#111"/>
<circle cx="173.39" cy="472.11" r="1.7" fill="#111"/>
<circle cx="179.78" cy="476.46" r="1.7" fill="#111"/>
<circle cx="219.19" cy="499.38" r="1.7" fill="#111"/>
<path d="M48.8 404.7 V408.4 M48.8 406.1 H53.2 V420.6 H56.2 V427.8 H61.5 V425.6 H74.2 V423.6 H97.7 V415.3 H122.7 V401.0 H220.7" stroke="#3a3a3a" stroke-width="1.15" fill="none"/>
<path d="M174.4 391.9 V397.1 M174.4 394.5 H220.7" stroke="#3a3a3a" stroke-width="1.1" fill="none"/>
<line x1="242.6" y1="400.6" x2="242.6" y2="433" stroke="#3a3a3a" stroke-width="1.25"/>
<line x1="242.1" y1="400.6" x2="244.6" y2="400.6" stroke="#3a3a3a" stroke-width="1.25"/>
<text x="246.5" y="403" font-size="6.7" font-weight="bold" text-anchor="start" textLength="10.62" lengthAdjust="spacingAndGlyphs" fill="#000">120</text>
<line x1="242.1" y1="411.4" x2="244.6" y2="411.4" stroke="#3a3a3a" stroke-width="1.25"/>
<text x="246.5" y="413.8" font-size="6.7" font-weight="bold" text-anchor="start" textLength="7.08" lengthAdjust="spacingAndGlyphs" fill="#000">80</text>
<line x1="242.1" y1="422.2" x2="244.6" y2="422.2" stroke="#3a3a3a" stroke-width="1.25"/>
<text x="246.5" y="424.6" font-size="6.7" font-weight="bold" text-anchor="start" textLength="7.08" lengthAdjust="spacingAndGlyphs" fill="#000">40</text>
<line x1="242.1" y1="433" x2="244.6" y2="433" stroke="#3a3a3a" stroke-width="1.25"/>
<text x="246.5" y="435.4" font-size="6.7" font-weight="bold" text-anchor="start" textLength="3.54" lengthAdjust="spacingAndGlyphs" fill="#000">0</text>
<text x="241.5" y="395.45" font-size="7.8" font-weight="bold" textLength="15.3" lengthAdjust="spacingAndGlyphs" fill="#000">SRT</text>
<text x="264.98" y="436.7" font-size="8.4" textLength="44" lengthAdjust="spacingAndGlyphs" fill="#000" stroke="#000" stroke-width="0.35" transform="rotate(-90 264.98 436.7)">ERT dosage</text>
<line x1="313.1" y1="402.45" x2="313.1" y2="529.7" stroke="#3a3a3a" stroke-width="1.25"/>
<line x1="309.8" y1="529.2" x2="313.1" y2="529.2" stroke="#3a3a3a" stroke-width="1.25"/>
<text x="308.8" y="531.95" font-size="7.6" font-weight="bold" text-anchor="end" textLength="3.89" lengthAdjust="spacingAndGlyphs" fill="#000" stroke="#000" stroke-width="0.2">0</text>
<line x1="309.8" y1="503.95" x2="313.1" y2="503.95" stroke="#3a3a3a" stroke-width="1.25"/>
<text x="308.8" y="506.7" font-size="7.6" font-weight="bold" text-anchor="end" textLength="9.72" lengthAdjust="spacingAndGlyphs" fill="#000" stroke="#000" stroke-width="0.2">2.5</text>
<line x1="309.8" y1="478.7" x2="313.1" y2="478.7" stroke="#3a3a3a" stroke-width="1.25"/>
<text x="308.8" y="481.45" font-size="7.6" font-weight="bold" text-anchor="end" textLength="9.72" lengthAdjust="spacingAndGlyphs" fill="#000" stroke="#000" stroke-width="0.2">5.0</text>
<line x1="309.8" y1="453.45" x2="313.1" y2="453.45" stroke="#3a3a3a" stroke-width="1.25"/>
<text x="308.8" y="456.2" font-size="7.6" font-weight="bold" text-anchor="end" textLength="9.72" lengthAdjust="spacingAndGlyphs" fill="#000" stroke="#000" stroke-width="0.2">7.5</text>
<line x1="309.8" y1="428.2" x2="313.1" y2="428.2" stroke="#3a3a3a" stroke-width="1.25"/>
<text x="308.8" y="430.95" font-size="7.6" font-weight="bold" text-anchor="end" textLength="7.78" lengthAdjust="spacingAndGlyphs" fill="#000" stroke="#000" stroke-width="0.2">10</text>
<line x1="309.8" y1="402.95" x2="313.1" y2="402.95" stroke="#3a3a3a" stroke-width="1.25"/>
<text x="308.8" y="405.7" font-size="7.6" font-weight="bold" text-anchor="end" textLength="13.61" lengthAdjust="spacingAndGlyphs" fill="#000" stroke="#000" stroke-width="0.2">12.5</text>
<line x1="312.6" y1="529.2" x2="513" y2="529.2" stroke="#3a3a3a" stroke-width="1.25"/>
<line x1="323.3" y1="529.2" x2="323.3" y2="531.6" stroke="#3a3a3a" stroke-width="1.25"/>
<text x="323.3" y="538.75" font-size="7.6" font-weight="bold" text-anchor="middle" textLength="3.68" lengthAdjust="spacingAndGlyphs" fill="#000" stroke="#000" stroke-width="0.2">0</text>
<line x1="344.38" y1="529.2" x2="344.38" y2="531.6" stroke="#3a3a3a" stroke-width="1.25"/>
<text x="344.38" y="538.75" font-size="7.6" font-weight="bold" text-anchor="middle" textLength="7.35" lengthAdjust="spacingAndGlyphs" fill="#000" stroke="#000" stroke-width="0.2">20</text>
<line x1="365.46" y1="529.2" x2="365.46" y2="531.6" stroke="#3a3a3a" stroke-width="1.25"/>
<text x="365.46" y="538.75" font-size="7.6" font-weight="bold" text-anchor="middle" textLength="7.35" lengthAdjust="spacingAndGlyphs" fill="#000" stroke="#000" stroke-width="0.2">40</text>
<line x1="386.54" y1="529.2" x2="386.54" y2="531.6" stroke="#3a3a3a" stroke-width="1.25"/>
<text x="386.54" y="538.75" font-size="7.6" font-weight="bold" text-anchor="middle" textLength="7.35" lengthAdjust="spacingAndGlyphs" fill="#000" stroke="#000" stroke-width="0.2">60</text>
<line x1="407.62" y1="529.2" x2="407.62" y2="531.6" stroke="#3a3a3a" stroke-width="1.25"/>
<text x="407.62" y="538.75" font-size="7.6" font-weight="bold" text-anchor="middle" textLength="7.35" lengthAdjust="spacingAndGlyphs" fill="#000" stroke="#000" stroke-width="0.2">80</text>
<line x1="428.7" y1="529.2" x2="428.7" y2="531.6" stroke="#3a3a3a" stroke-width="1.25"/>
<text x="428.7" y="538.75" font-size="7.6" font-weight="bold" text-anchor="middle" textLength="11.03" lengthAdjust="spacingAndGlyphs" fill="#000" stroke="#000" stroke-width="0.2">100</text>
<line x1="449.78" y1="529.2" x2="449.78" y2="531.6" stroke="#3a3a3a" stroke-width="1.25"/>
<text x="449.78" y="538.75" font-size="7.6" font-weight="bold" text-anchor="middle" textLength="11.03" lengthAdjust="spacingAndGlyphs" fill="#000" stroke="#000" stroke-width="0.2">120</text>
<line x1="470.86" y1="529.2" x2="470.86" y2="531.6" stroke="#3a3a3a" stroke-width="1.25"/>
<text x="470.86" y="538.75" font-size="7.6" font-weight="bold" text-anchor="middle" textLength="11.03" lengthAdjust="spacingAndGlyphs" fill="#000" stroke="#000" stroke-width="0.2">140</text>
<line x1="491.94" y1="529.2" x2="491.94" y2="531.6" stroke="#3a3a3a" stroke-width="1.25"/>
<text x="491.94" y="538.75" font-size="7.6" font-weight="bold" text-anchor="middle" textLength="11.03" lengthAdjust="spacingAndGlyphs" fill="#000" stroke="#000" stroke-width="0.2">160</text>
<line x1="513.02" y1="529.2" x2="513.02" y2="531.6" stroke="#3a3a3a" stroke-width="1.25"/>
<text x="513.02" y="538.75" font-size="7.6" font-weight="bold" text-anchor="middle" textLength="11.03" lengthAdjust="spacingAndGlyphs" fill="#000" stroke="#000" stroke-width="0.2">180</text>
<text x="390.8" y="391.8" font-size="13" textLength="51.1" lengthAdjust="spacingAndGlyphs" fill="#111" stroke="#111" stroke-width="0.25">Sibling 2</text>
<text x="290.34" y="518" font-size="9" textLength="57.2" lengthAdjust="spacingAndGlyphs" fill="#000" stroke="#000" stroke-width="0.45" transform="rotate(-90 290.34 518)">Chitotriosidase</text>
<text x="290.34" y="455.96" font-size="9" textLength="50.56" lengthAdjust="spacingAndGlyphs" fill="#000" stroke="#000" stroke-width="0.45" transform="rotate(-90 290.34 455.96)">(µmol/mL*h)</text>
<text x="379.7" y="550.6" font-size="9.5" font-weight="bold" textLength="58.3" lengthAdjust="spacing" fill="#000">Time (months)</text>
<path d="M324.56 489.81 L332.05 522.94 L339.22 482.74 L346.17 446.89 L362.3 482.74 L374.21 507.99 L391.39 508.5 L423.75 516.07 L449.78 515.06 L494.05 506.27" stroke="#4a4a4a" stroke-width="1.1" fill="none"/>
<circle cx="324.56" cy="489.81" r="1.7" fill="#111"/>
<circle cx="332.05" cy="522.94" r="1.7" fill="#111"/>
<circle cx="339.22" cy="482.74" r="1.7" fill="#111"/>
<circle cx="346.17" cy="446.89" r="1.7" fill="#111"/>
<circle cx="362.3" cy="482.74" r="1.7" fill="#111"/>
<circle cx="374.21" cy="507.99" r="1.7" fill="#111"/>
<circle cx="391.39" cy="508.5" r="1.7" fill="#111"/>
<circle cx="423.75" cy="516.07" r="1.7" fill="#111"/>
<circle cx="449.78" cy="515.06" r="1.7" fill="#111"/>
<circle cx="494.05" cy="506.27" r="1.7" fill="#111"/>
<line x1="38.4" y1="582.14" x2="38.4" y2="698.1" stroke="#3a3a3a" stroke-width="1.25"/>
<line x1="35.1" y1="697.6" x2="38.4" y2="697.6" stroke="#3a3a3a" stroke-width="1.25"/>
<text x="34.1" y="700.35" font-size="7.6" font-weight="bold" text-anchor="end" textLength="3.89" lengthAdjust="spacingAndGlyphs" fill="#000" stroke="#000" stroke-width="0.2">0</text>
<line x1="35.1" y1="678.44" x2="38.4" y2="678.44" stroke="#3a3a3a" stroke-width="1.25"/>
<text x="34.1" y="681.19" font-size="7.6" font-weight="bold" text-anchor="end" textLength="7.78" lengthAdjust="spacingAndGlyphs" fill="#000" stroke="#000" stroke-width="0.2">20</text>
<line x1="35.1" y1="659.28" x2="38.4" y2="659.28" stroke="#3a3a3a" stroke-width="1.25"/>
<text x="34.1" y="662.03" font-size="7.6" font-weight="bold" text-anchor="end" textLength="7.78" lengthAdjust="spacingAndGlyphs" fill="#000" stroke="#000" stroke-width="0.2">40</text>
<line x1="35.1" y1="640.12" x2="38.4" y2="640.12" stroke="#3a3a3a" stroke-width="1.25"/>
<text x="34.1" y="642.87" font-size="7.6" font-weight="bold" text-anchor="end" textLength="7.78" lengthAdjust="spacingAndGlyphs" fill="#000" stroke="#000" stroke-width="0.2">60</text>
<line x1="35.1" y1="620.96" x2="38.4" y2="620.96" stroke="#3a3a3a" stroke-width="1.25"/>
<text x="34.1" y="623.71" font-size="7.6" font-weight="bold" text-anchor="end" textLength="7.78" lengthAdjust="spacingAndGlyphs" fill="#000" stroke="#000" stroke-width="0.2">80</text>
<line x1="35.1" y1="601.8" x2="38.4" y2="601.8" stroke="#3a3a3a" stroke-width="1.25"/>
<text x="34.1" y="604.55" font-size="7.6" font-weight="bold" text-anchor="end" textLength="11.67" lengthAdjust="spacingAndGlyphs" fill="#000" stroke="#000" stroke-width="0.2">100</text>
<line x1="35.1" y1="582.64" x2="38.4" y2="582.64" stroke="#3a3a3a" stroke-width="1.25"/>
<text x="34.1" y="585.39" font-size="7.6" font-weight="bold" text-anchor="end" textLength="11.67" lengthAdjust="spacingAndGlyphs" fill="#000" stroke="#000" stroke-width="0.2">120</text>
<line x1="37.9" y1="697.6" x2="240" y2="697.6" stroke="#3a3a3a" stroke-width="1.25"/>
<line x1="57" y1="697.6" x2="57" y2="700" stroke="#3a3a3a" stroke-width="1.25"/>
<text x="57" y="706.75" font-size="7.6" font-weight="bold" text-anchor="middle" textLength="3.68" lengthAdjust="spacingAndGlyphs" fill="#000" stroke="#000" stroke-width="0.2">0</text>
<line x1="93.2" y1="697.6" x2="93.2" y2="700" stroke="#3a3a3a" stroke-width="1.25"/>
<text x="93.2" y="706.75" font-size="7.6" font-weight="bold" text-anchor="middle" textLength="7.35" lengthAdjust="spacingAndGlyphs" fill="#000" stroke="#000" stroke-width="0.2">10</text>
<line x1="129.4" y1="697.6" x2="129.4" y2="700" stroke="#3a3a3a" stroke-width="1.25"/>
<text x="129.4" y="706.75" font-size="7.6" font-weight="bold" text-anchor="middle" textLength="7.35" lengthAdjust="spacingAndGlyphs" fill="#000" stroke="#000" stroke-width="0.2">20</text>
<line x1="165.6" y1="697.6" x2="165.6" y2="700" stroke="#3a3a3a" stroke-width="1.25"/>
<text x="165.6" y="706.75" font-size="7.6" font-weight="bold" text-anchor="middle" textLength="7.35" lengthAdjust="spacingAndGlyphs" fill="#000" stroke="#000" stroke-width="0.2">30</text>
<line x1="201.8" y1="697.6" x2="201.8" y2="700" stroke="#3a3a3a" stroke-width="1.25"/>
<text x="201.8" y="706.75" font-size="7.6" font-weight="bold" text-anchor="middle" textLength="7.35" lengthAdjust="spacingAndGlyphs" fill="#000" stroke="#000" stroke-width="0.2">40</text>
<line x1="238" y1="697.6" x2="238" y2="700" stroke="#3a3a3a" stroke-width="1.25"/>
<text x="238" y="706.75" font-size="7.6" font-weight="bold" text-anchor="middle" textLength="7.35" lengthAdjust="spacingAndGlyphs" fill="#000" stroke="#000" stroke-width="0.2">50</text>
<text x="107.8" y="581.9" font-size="13" textLength="51.1" lengthAdjust="spacingAndGlyphs" fill="#111" stroke="#111" stroke-width="0.25">Sibling 3</text>
<text x="19.94" y="663" font-size="9" font-weight="bold" textLength="50.6" lengthAdjust="spacingAndGlyphs" fill="#000" transform="rotate(-90 19.94 663)">Glcsph (nM)</text>
<text x="105.1" y="717.9" font-size="9.5" font-weight="bold" textLength="58.2" lengthAdjust="spacing" fill="#000">Time (months)</text>
<path d="M45.78 617.13 L57 616.17 L78.36 680.74 L93.2 690.89 L130.12 685.05 L144.6 691.76 L236.55 694.25" stroke="#4a4a4a" stroke-width="1.1" fill="none"/>
<circle cx="45.78" cy="617.13" r="1.7" fill="#111"/>
<circle cx="57" cy="616.17" r="1.7" fill="#111"/>
<circle cx="78.36" cy="680.74" r="1.7" fill="#111"/>
<circle cx="93.2" cy="690.89" r="1.7" fill="#111"/>
<circle cx="130.12" cy="685.05" r="1.7" fill="#111"/>
<circle cx="144.6" cy="691.76" r="1.7" fill="#111"/>
<circle cx="236.55" cy="694.25" r="1.7" fill="#111"/>
<path d="M57.0 590.8 V595.6 M57.0 593.2 H233.8" stroke="#555" stroke-width="1.5" fill="none"/>
<path d="M57.0 598.2 V602.8 M57.0 600.5 H233.8" stroke="#3a3a3a" stroke-width="1.15" fill="none"/>
<line x1="242.7" y1="600.2" x2="242.7" y2="633.7" stroke="#3a3a3a" stroke-width="1.25"/>
<line x1="242.2" y1="600.2" x2="244.7" y2="600.2" stroke="#3a3a3a" stroke-width="1.25"/>
<text x="246.6" y="602.6" font-size="6.7" font-weight="bold" text-anchor="start" textLength="10.62" lengthAdjust="spacingAndGlyphs" fill="#000">120</text>
<line x1="242.2" y1="611.37" x2="244.7" y2="611.37" stroke="#3a3a3a" stroke-width="1.25"/>
<text x="246.6" y="613.77" font-size="6.7" font-weight="bold" text-anchor="start" textLength="7.08" lengthAdjust="spacingAndGlyphs" fill="#000">80</text>
<line x1="242.2" y1="622.53" x2="244.7" y2="622.53" stroke="#3a3a3a" stroke-width="1.25"/>
<text x="246.6" y="624.93" font-size="6.7" font-weight="bold" text-anchor="start" textLength="7.08" lengthAdjust="spacingAndGlyphs" fill="#000">40</text>
<line x1="242.2" y1="633.7" x2="244.7" y2="633.7" stroke="#3a3a3a" stroke-width="1.25"/>
<text x="246.6" y="636.1" font-size="6.7" font-weight="bold" text-anchor="start" textLength="3.54" lengthAdjust="spacingAndGlyphs" fill="#000">0</text>
<text x="241.5" y="594.05" font-size="7.8" font-weight="bold" textLength="15.3" lengthAdjust="spacingAndGlyphs" fill="#000">SRT</text>
<text x="264.98" y="635.9" font-size="8.4" textLength="43.1" lengthAdjust="spacingAndGlyphs" fill="#000" stroke="#000" stroke-width="0.35" transform="rotate(-90 264.98 635.9)">ERT dosage</text>
<line x1="313.3" y1="579.78" x2="313.3" y2="698.1" stroke="#3a3a3a" stroke-width="1.25"/>
<line x1="310" y1="697.6" x2="313.3" y2="697.6" stroke="#3a3a3a" stroke-width="1.25"/>
<text x="309" y="700.35" font-size="7.6" font-weight="bold" text-anchor="end" textLength="3.89" lengthAdjust="spacingAndGlyphs" fill="#000" stroke="#000" stroke-width="0.2">0</text>
<line x1="310" y1="680.84" x2="313.3" y2="680.84" stroke="#3a3a3a" stroke-width="1.25"/>
<text x="309" y="683.59" font-size="7.6" font-weight="bold" text-anchor="end" textLength="3.89" lengthAdjust="spacingAndGlyphs" fill="#000" stroke="#000" stroke-width="0.2">2</text>
<line x1="310" y1="664.08" x2="313.3" y2="664.08" stroke="#3a3a3a" stroke-width="1.25"/>
<text x="309" y="666.83" font-size="7.6" font-weight="bold" text-anchor="end" textLength="3.89" lengthAdjust="spacingAndGlyphs" fill="#000" stroke="#000" stroke-width="0.2">4</text>
<line x1="310" y1="647.32" x2="313.3" y2="647.32" stroke="#3a3a3a" stroke-width="1.25"/>
<text x="309" y="650.07" font-size="7.6" font-weight="bold" text-anchor="end" textLength="3.89" lengthAdjust="spacingAndGlyphs" fill="#000" stroke="#000" stroke-width="0.2">6</text>
<line x1="310" y1="630.56" x2="313.3" y2="630.56" stroke="#3a3a3a" stroke-width="1.25"/>
<text x="309" y="633.31" font-size="7.6" font-weight="bold" text-anchor="end" textLength="3.89" lengthAdjust="spacingAndGlyphs" fill="#000" stroke="#000" stroke-width="0.2">8</text>
<line x1="310" y1="613.8" x2="313.3" y2="613.8" stroke="#3a3a3a" stroke-width="1.25"/>
<text x="309" y="616.55" font-size="7.6" font-weight="bold" text-anchor="end" textLength="7.78" lengthAdjust="spacingAndGlyphs" fill="#000" stroke="#000" stroke-width="0.2">10</text>
<line x1="310" y1="597.04" x2="313.3" y2="597.04" stroke="#3a3a3a" stroke-width="1.25"/>
<text x="309" y="599.79" font-size="7.6" font-weight="bold" text-anchor="end" textLength="7.78" lengthAdjust="spacingAndGlyphs" fill="#000" stroke="#000" stroke-width="0.2">12</text>
<line x1="310" y1="580.28" x2="313.3" y2="580.28" stroke="#3a3a3a" stroke-width="1.25"/>
<text x="309" y="583.03" font-size="7.6" font-weight="bold" text-anchor="end" textLength="7.78" lengthAdjust="spacingAndGlyphs" fill="#000" stroke="#000" stroke-width="0.2">14</text>
<line x1="312.8" y1="697.6" x2="512.8" y2="697.6" stroke="#3a3a3a" stroke-width="1.25"/>
<line x1="331.3" y1="697.6" x2="331.3" y2="700" stroke="#3a3a3a" stroke-width="1.25"/>
<text x="331.3" y="706.75" font-size="7.6" font-weight="bold" text-anchor="middle" textLength="3.68" lengthAdjust="spacingAndGlyphs" fill="#000" stroke="#000" stroke-width="0.2">0</text>
<line x1="367.54" y1="697.6" x2="367.54" y2="700" stroke="#3a3a3a" stroke-width="1.25"/>
<text x="367.54" y="706.75" font-size="7.6" font-weight="bold" text-anchor="middle" textLength="7.35" lengthAdjust="spacingAndGlyphs" fill="#000" stroke="#000" stroke-width="0.2">10</text>
<line x1="403.78" y1="697.6" x2="403.78" y2="700" stroke="#3a3a3a" stroke-width="1.25"/>
<text x="403.78" y="706.75" font-size="7.6" font-weight="bold" text-anchor="middle" textLength="7.35" lengthAdjust="spacingAndGlyphs" fill="#000" stroke="#000" stroke-width="0.2">20</text>
<line x1="440.02" y1="697.6" x2="440.02" y2="700" stroke="#3a3a3a" stroke-width="1.25"/>
<text x="440.02" y="706.75" font-size="7.6" font-weight="bold" text-anchor="middle" textLength="7.35" lengthAdjust="spacingAndGlyphs" fill="#000" stroke="#000" stroke-width="0.2">30</text>
<line x1="476.26" y1="697.6" x2="476.26" y2="700" stroke="#3a3a3a" stroke-width="1.25"/>
<text x="476.26" y="706.75" font-size="7.6" font-weight="bold" text-anchor="middle" textLength="7.35" lengthAdjust="spacingAndGlyphs" fill="#000" stroke="#000" stroke-width="0.2">40</text>
<line x1="512.5" y1="697.6" x2="512.5" y2="700" stroke="#3a3a3a" stroke-width="1.25"/>
<text x="512.5" y="706.75" font-size="7.6" font-weight="bold" text-anchor="middle" textLength="7.35" lengthAdjust="spacingAndGlyphs" fill="#000" stroke="#000" stroke-width="0.2">50</text>
<text x="385.9" y="582.1" font-size="13" textLength="50.7" lengthAdjust="spacingAndGlyphs" fill="#111" stroke="#111" stroke-width="0.25">Sibling 3</text>
<text x="290.34" y="694.8" font-size="9" textLength="58.58" lengthAdjust="spacingAndGlyphs" fill="#000" stroke="#000" stroke-width="0.45" transform="rotate(-90 290.34 694.8)">Chitotriosidase</text>
<text x="290.34" y="631.27" font-size="9" textLength="51.77" lengthAdjust="spacingAndGlyphs" fill="#000" stroke="#000" stroke-width="0.45" transform="rotate(-90 290.34 631.27)">(µmol/mL*h)</text>
<text x="379.7" y="717.8" font-size="9.5" font-weight="bold" textLength="58.3" lengthAdjust="spacing" fill="#000">Time (months)</text>
<path d="M320.07 675.31 L331.3 613.8 L350.51 693.83 L367.18 695.09 L403.78 692.99 L418.28 692.99 L446.54 690.06 L508.51 690.81" stroke="#4a4a4a" stroke-width="1.1" fill="none"/>
<circle cx="320.07" cy="675.31" r="1.7" fill="#111"/>
<circle cx="331.3" cy="613.8" r="1.7" fill="#111"/>
<circle cx="350.51" cy="693.83" r="1.7" fill="#111"/>
<circle cx="367.18" cy="695.09" r="1.7" fill="#111"/>
<circle cx="403.78" cy="692.99" r="1.7" fill="#111"/>
<circle cx="418.28" cy="692.99" r="1.7" fill="#111"/>
<circle cx="446.54" cy="690.06" r="1.7" fill="#111"/>
<circle cx="508.51" cy="690.81" r="1.7" fill="#111"/>
</g>
</svg>
</body></html>
